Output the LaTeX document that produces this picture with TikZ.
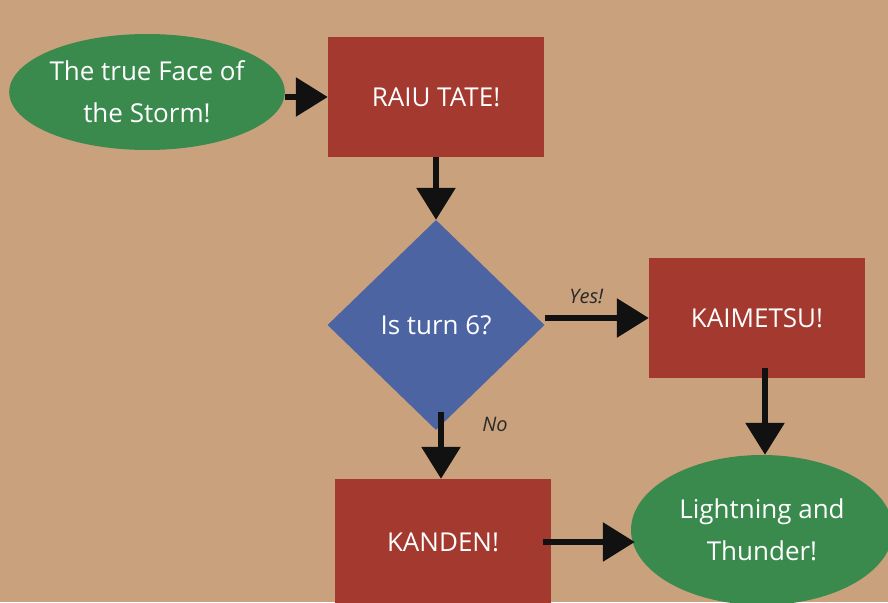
\documentclass[tikz,border=0pt]{standalone}
\usepackage{fontspec}
\setmainfont{Open Sans}
\usetikzlibrary{shapes.geometric,arrows.meta}
\definecolor{paper}{HTML}{C9A27D}
\definecolor{leaf}{HTML}{3A8A4E}
\definecolor{brick}{HTML}{A3392F}
\definecolor{slate}{HTML}{4D64A2}
\definecolor{ink}{HTML}{111111}
\tikzset{
  txt/.style={text=white,font=\fontsize{26}{42}\selectfont,align=center},
  greenoval/.style={ellipse,fill=leaf,txt,inner sep=0pt},
  redbox/.style={rectangle,fill=brick,txt,minimum width=216pt,minimum height=120pt,inner sep=0pt},
  bluediamond/.style={diamond,fill=slate,txt,minimum width=217pt,minimum height=210pt,inner sep=0pt},
  conn/.style={draw=ink,line width=6pt,-{Triangle[width=38pt,length=32pt]}},
  lbl/.style={text=ink!90,font=\itshape\fontsize{20}{24}\selectfont}
}
\begin{document}
\begin{tikzpicture}[x=1pt,y=-1pt]
\fill[paper] (0,0) rectangle (888,602);
\useasboundingbox (0,0) rectangle (888,602);
\node[greenoval,minimum width=266pt,minimum height=116pt] (start) at (147,92) {The true Face of\\the Storm!};
\node[redbox] (raiu) at (436,97) {RAIU TATE!};
\node[bluediamond] (turn) at (436,325) {Is turn 6?};
\node[redbox] (kai) at (757,318) {KAIMETSU!};
\node[redbox,minimum height=126pt] (kan) at (443,542) {KANDEN!};
\node[greenoval,minimum width=262pt,minimum height=150pt] (end) at (762,530) {Lightning and\\Thunder!};
\draw[conn] (start.east |- raiu.west) -- (raiu.west);
\draw[conn] (raiu.south) -- (turn.north);
\draw[conn] (turn.east |- kai.west) -- node[lbl,above=8pt,pos=0.4] (yes) {Yes!} (kai.west);
\draw[conn] ([xshift=5pt]turn.south) ++(0,-18) coordinate (ns) (ns) -- (ns |- kan.north);
\node[lbl] (no) at (495,424) {No};
\draw[conn] (kai.south -| 765,0) ++(0,-10) coordinate (ks) (ks) -- (ks |- end.north);
\draw[conn] ([xshift=-8pt]kan.east) -- ([xshift=4pt]kan.east -| end.west);
\end{tikzpicture}
\end{document}
